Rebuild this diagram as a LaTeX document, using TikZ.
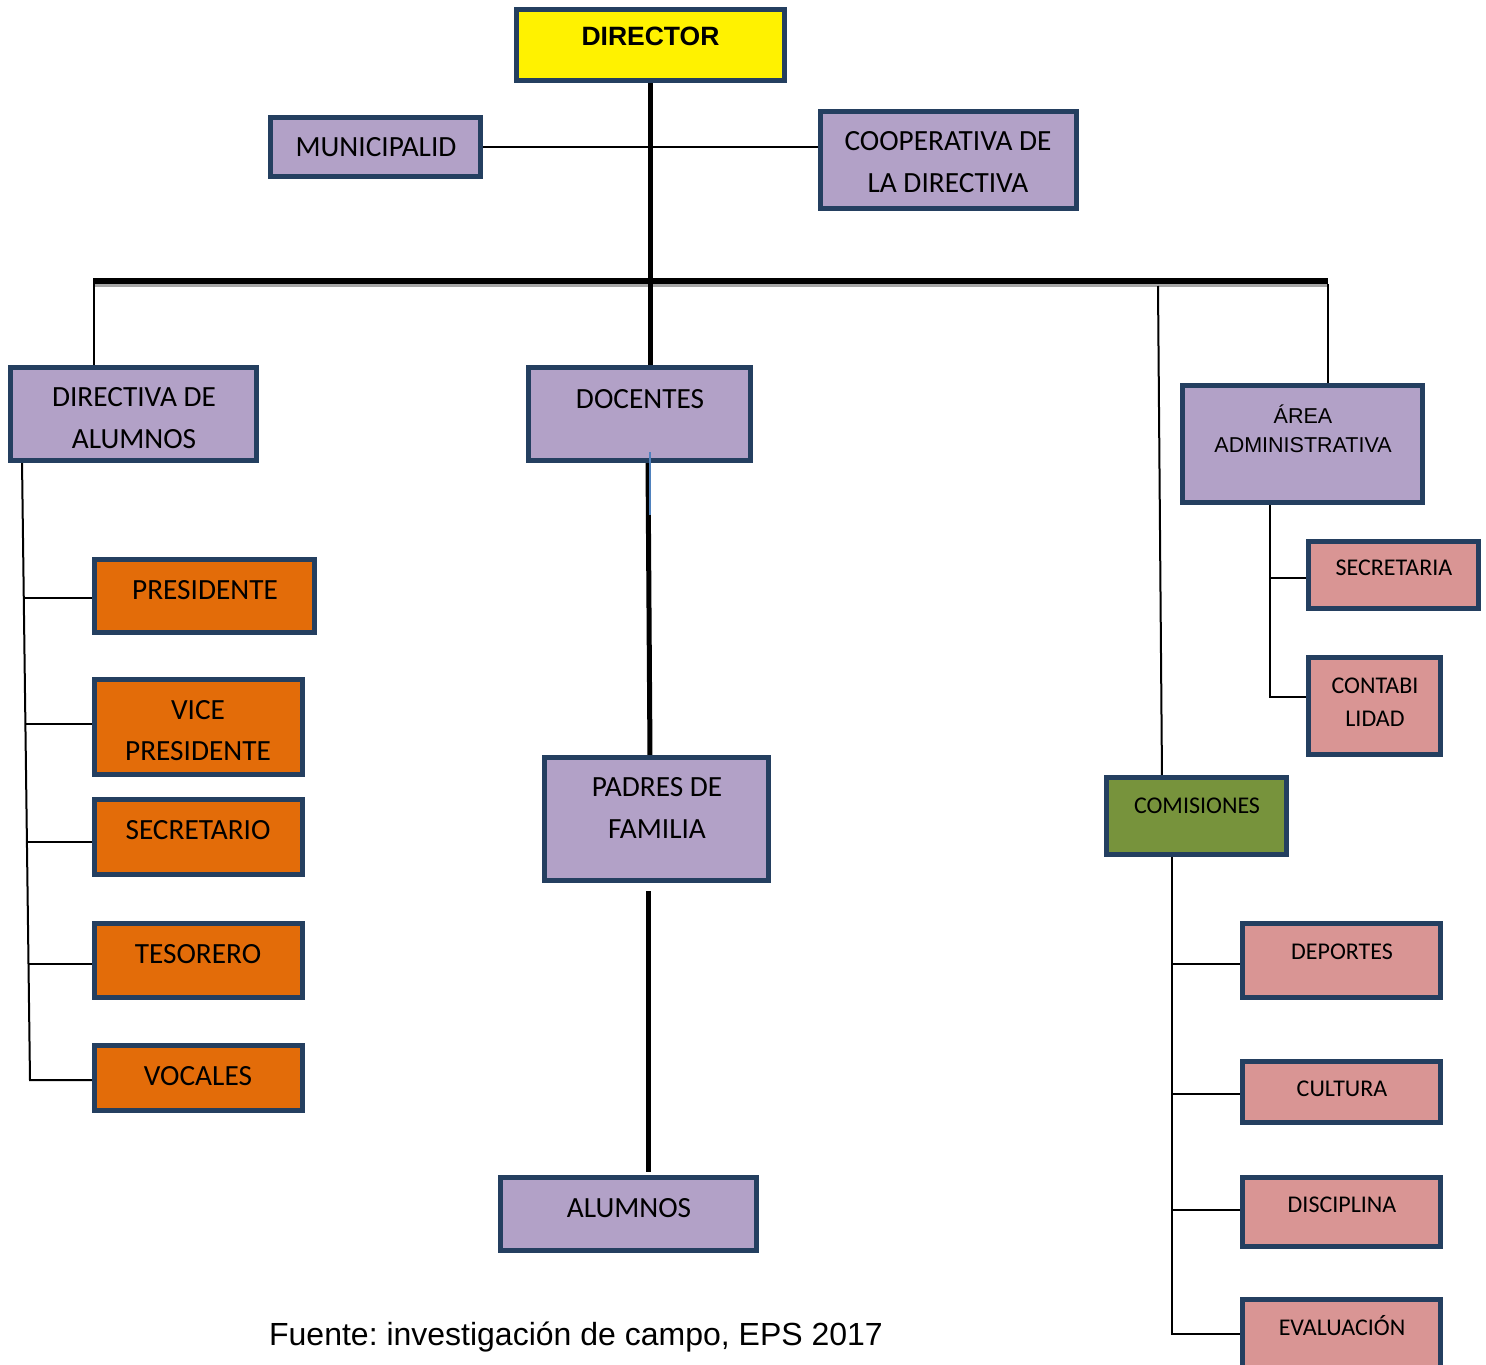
\documentclass[tikz,border=0pt]{standalone}
\usepackage{fontspec}
\setmainfont{Carlito}
\newfontfamily\arialf{Liberation Sans}
\definecolor{bordc}{HTML}{243F60}
\definecolor{lavc}{HTML}{B2A1C7}
\definecolor{orngc}{HTML}{E36C09}
\definecolor{pinkc}{HTML}{D99594}
\definecolor{greenc}{HTML}{77933C}
\definecolor{bluec}{HTML}{4F81BD}
\pgfdeclarelayer{background}
\pgfdeclarelayer{bottom}
\pgfsetlayers{bottom,background,main}
\frenchspacing
\begin{document}
\begin{tikzpicture}[x=1pt,y=-1pt,
  box/.style={draw=bordc, line width=5pt, rectangle, inner sep=0pt, outer sep=0pt},
  yel/.style={box, fill=yellow},
  lav/.style={box, fill=lavc},
  orng/.style={box, fill=orngc},
  pnk/.style={box, fill=pinkc},
  grn/.style={box, fill=greenc},
  tbig/.style={anchor=base, inner sep=0pt, font=\fontsize{29.3}{31}\selectfont},
  tsmall/.style={anchor=base, inner sep=0pt, font=\fontsize{24}{26}\selectfont},
  tarial/.style={anchor=base, inner sep=0pt, font=\arialf\fontsize{21.5}{24}\selectfont},
  tdir/.style={anchor=base, inner sep=0pt, font=\arialf\bfseries\fontsize{26.5}{30}\selectfont},
  thinln/.style={line width=2pt, black},
  heavy/.style={line width=5pt, black}]
\useasboundingbox (0,0) rectangle (1486,1365);
\begin{pgfonlayer}{bottom}
\fill[white] (0,0) rectangle (1486,1365);
\end{pgfonlayer}

% boxes
\node[yel, minimum width=268pt, minimum height=71pt] (dir) at (650.5,45) {};
\node[lav, minimum width=210pt, minimum height=59pt] (mun) at (375.5,147) {};
\node[lav, minimum width=256pt, minimum height=97pt] (coop) at (948.5,160) {};
\node[lav, minimum width=246pt, minimum height=93pt] (dal) at (133.5,414) {};
\node[lav, minimum width=222pt, minimum height=93pt] (doc) at (639.5,414) {};
\node[lav, minimum width=240pt, minimum height=117pt] (area) at (1302.5,444) {};
\node[pnk, minimum width=170pt, minimum height=67pt] (sec) at (1393.5,575) {};
\node[pnk, minimum width=132pt, minimum height=97pt] (cont) at (1374.5,706) {};
\node[grn, minimum width=180pt, minimum height=77pt] (com) at (1196.5,816) {};
\node[pnk, minimum width=198pt, minimum height=74pt] (dep) at (1341.5,960.5) {};
\node[pnk, minimum width=198pt, minimum height=61pt] (cul) at (1341.5,1092) {};
\node[pnk, minimum width=198pt, minimum height=69pt] (disc) at (1341.5,1212) {};
\node[pnk, minimum width=198pt, minimum height=68pt] (eval) at (1341.5,1333.5) {};
\node[orng, minimum width=220pt, minimum height=73pt] (pres) at (204.5,596) {};
\node[orng, minimum width=208pt, minimum height=95pt] (vice) at (198.5,727) {};
\node[orng, minimum width=208pt, minimum height=75pt] (secr) at (198.5,837) {};
\node[orng, minimum width=208pt, minimum height=74pt] (teso) at (198.5,960.5) {};
\node[orng, minimum width=208pt, minimum height=65pt] (voc) at (198.5,1078) {};
\node[lav, minimum width=224pt, minimum height=123pt] (pad) at (656.5,819) {};
\node[lav, minimum width=256pt, minimum height=73pt] (alu) at (628.5,1214) {};

% connectors
\begin{pgfonlayer}{background}
\coordinate (barL) at (93,281);
\coordinate (barR) at (1328,281);
\draw[line width=3pt, black!35] ([yshift=-4.5pt]barL) -- ([yshift=-4.5pt]barR);
\draw[line width=6pt, black] (barL) -- (barR);
\draw[heavy] (dir.south) -- (dir.south |- doc.north);
\draw[thinln] (mun.east) -- (coop.west |- mun.east);
\coordinate (bl) at (94,284);
\draw[thinln] (bl) -- (bl |- dal.north);
\coordinate (br) at (1328,284);
\draw[thinln] (br) -- (br |- area.north);
\coordinate (cb) at (1158,286);
\draw[thinln] (cb) -- ([xshift=55.5pt]com.north west);
\draw[heavy] ([xshift=8.5pt]doc.south) -- ([xshift=-6.5pt]pad.north);
\draw[heavy] ([xshift=-8.5pt,yshift=-10.5pt]pad.south) -- ([xshift=19.5pt,yshift=5.5pt]alu.north);
% left tree
\coordinate (l0) at ([xshift=11.5pt]dal.south west);
\coordinate (l1) at (30,1080);
\draw[thinln] (l0) -- (l1) -- (l1 -| voc.west);
\coordinate (jp) at (23.75,598);
\coordinate (jv) at (25.4,724);
\coordinate (js) at (26.9,842);
\coordinate (jt) at (28.5,964);
\draw[thinln] (jp) -- (jp -| pres.west);
\draw[thinln] (jv) -- (jv -| vice.west);
\draw[thinln] (js) -- (js -| secr.west);
\draw[thinln] (jt) -- (jt -| teso.west);
% area tree
\coordinate (a0) at ([xshift=87.5pt]area.south west);
\draw[thinln] (a0) |- ([yshift=9pt]cont.west);
\coordinate (sb) at ([yshift=-3pt]sec.west);
\draw[thinln] (sb -| a0) -- (sb);
% comisiones tree
\coordinate (c0) at ([xshift=65.5pt]com.south west);
\draw[thinln] (c0) |- (eval.west);
\coordinate (db) at ([yshift=-3.5pt]dep.west);
\draw[thinln] (db -| c0) -- (db);
\coordinate (cbr) at ([yshift=-2pt]cul.west);
\draw[thinln] (cbr -| c0) -- (cbr);
\coordinate (dsb) at ([yshift=2pt]disc.west);
\draw[thinln] (dsb -| c0) -- (dsb);
\end{pgfonlayer}
\draw[line width=1.3pt, bluec] ([xshift=10.5pt,yshift=8.5pt]doc.south) -- ++(0,63);

% texts
\node[tdir] (t-dir) at (650.5,45) {DIRECTOR};
\node[tbig] (t-mun) at (376,156) {MUNICIPALID};
\node[tbig] (t-coop1) at (948,150) {COOPERATIVA DE};
\node[tbig] (t-coop2) at (948,192) {LA DIRECTIVA};
\node[tbig] (t-dal1) at (134,406) {DIRECTIVA DE};
\node[tbig] (t-dal2) at (134,448) {ALUMNOS};
\node[tbig] (t-doc) at (640,408) {DOCENTES};
\node[tarial] (t-area1) at (1303,423) {ÁREA};
\node[tarial] (t-area2) at (1303,452) {ADMINISTRATIVA};
\node[tsmall] (t-sec) at (1394,575) {SECRETARIA};
\node[tsmall] (t-cont1) at (1375,693) {CONTABI};
\node[tsmall] (t-cont2) at (1375,726) {LIDAD};
\node[tsmall] (t-com) at (1197,813) {COMISIONES};
\node[tsmall] (t-dep) at (1342,959) {DEPORTES};
\node[tsmall] (t-cul) at (1342,1096) {CULTURA};
\node[tsmall] (t-disc) at (1342,1212) {DISCIPLINA};
\node[tsmall] (t-eval) at (1342,1335) {EVALUACIÓN};
\node[tbig] (t-pres) at (205,599) {PRESIDENTE};
\node[tbig] (t-vice1) at (198,719) {VICE};
\node[tbig] (t-vice2) at (198,760) {PRESIDENTE};
\node[tbig] (t-secr) at (198,839) {SECRETARIO};
\node[tbig] (t-teso) at (198,963) {TESORERO};
\node[tbig] (t-voc) at (198,1085) {VOCALES};
\node[tbig] (t-pad1) at (657,796) {PADRES DE};
\node[tbig] (t-pad2) at (657,838) {FAMILIA};
\node[tbig] (t-alu) at (629,1217) {ALUMNOS};
\node[anchor=base, inner sep=0pt, font=\arialf\fontsize{32}{34}\selectfont] (t-src) at (576,1345) {Fuente: investigación de campo, EPS 2017};
\end{tikzpicture}
\end{document}
